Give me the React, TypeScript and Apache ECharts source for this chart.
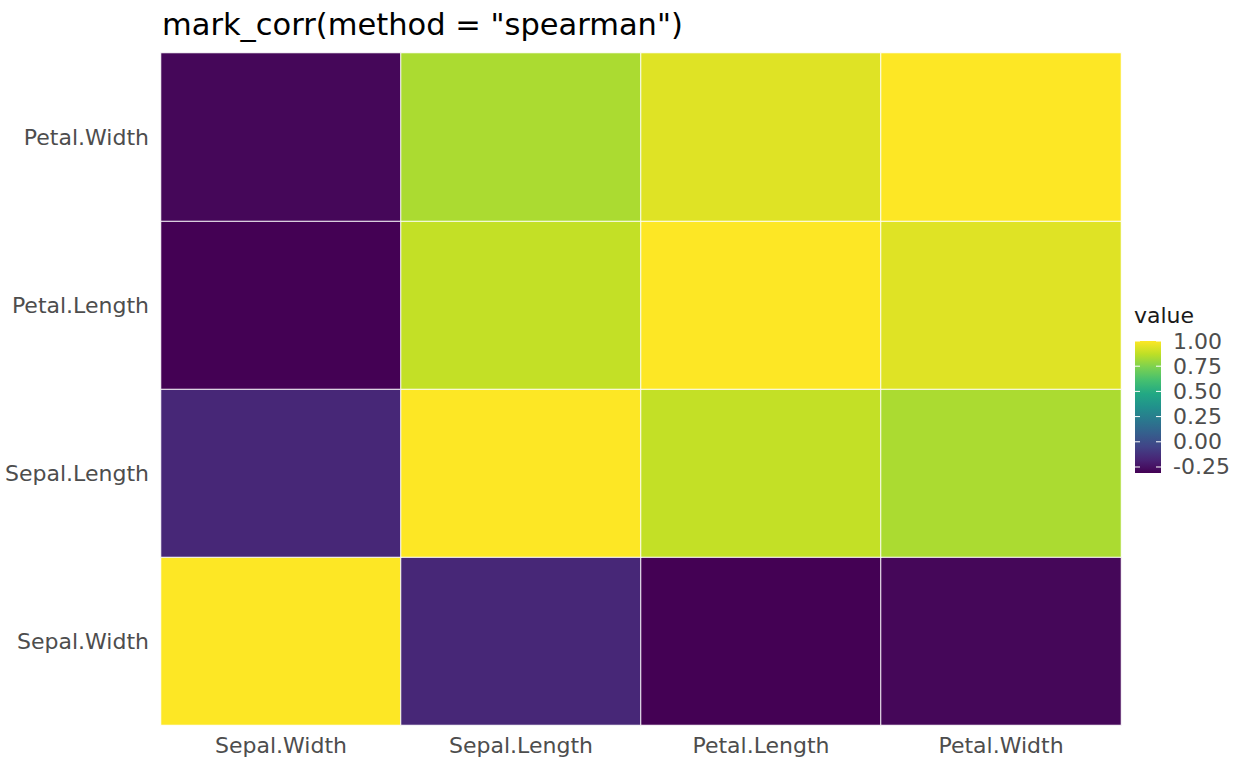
import React, { useEffect, useRef } from "react";
import * as echarts from "echarts";

const xCategories = ["Sepal.Width", "Sepal.Length", "Petal.Length", "Petal.Width"];
const yCategories = ["Sepal.Width", "Sepal.Length", "Petal.Length", "Petal.Width"];

// correlation rows, one per y category (bottom to top), columns follow xCategories
const rowSepalWidth = [1.0, -0.1667, -0.3096, -0.289];
const rowSepalLength = [-0.1667, 1.0, 0.8819, 0.8343];
const rowPetalLength = [-0.3096, 0.8819, 1.0, 0.9377];
const rowPetalWidth = [-0.289, 0.8343, 0.9377, 1.0];

const legendTicks = [1.0, 0.75, 0.5, 0.25, 0.0, -0.25];
const valueMin = -0.3096;
const valueMax = 1.0;

const viridis = [
  "#440154", "#482475", "#414487", "#355f8d", "#2a788e",
  "#21918c", "#22a884", "#44bf70", "#7ad151", "#bddf26", "#fde725",
];

const FONT = "DejaVu Sans";

const App = () => {
  const chartRef = useRef<HTMLDivElement>(null);

  useEffect(() => {
    if (!chartRef.current) return;
    document.body.style.margin = "0";

    const chart = echarts.init(chartRef.current, undefined, { renderer: "svg" });

    const rows = [rowSepalWidth, rowSepalLength, rowPetalLength, rowPetalWidth];
    const data: number[][] = [];
    rows.forEach((row, yi) => row.forEach((v, xi) => data.push([xi, yi, v])));

    // colour bar
    const barX = 1135;
    const barTop = 341;
    const barBottom = 473;
    const barW = 26;
    const toY = (v: number) =>
      barBottom - ((v - valueMin) / (valueMax - valueMin)) * (barBottom - barTop);

    // gradient runs top (offset 0, yellow) to bottom (offset 1, purple); offsets ascending
    const gradStops = viridis
      .slice()
      .reverse()
      .map((c, i) => ({ offset: i / (viridis.length - 1), color: c }));

    const legendGraphics: any[] = [
      {
        type: "text",
        x: barX - 1,
        y: 326,
        style: {
          text: "value",
          fontSize: 22,
          fill: "#1a1a1a",
          fontFamily: FONT,
          verticalAlign: "bottom",
        },
      },
      {
        type: "rect",
        shape: { x: barX, y: barTop, width: barW, height: barBottom - barTop },
        style: { fill: new echarts.graphic.LinearGradient(0, 0, 0, 1, gradStops) },
      },
    ];
    legendTicks.forEach((t) => {
      const y = toY(t);
      legendGraphics.push(
        {
          type: "line",
          shape: { x1: barX, y1: y, x2: barX + 5, y2: y },
          style: { stroke: "#ffffff", lineWidth: 1 },
        },
        {
          type: "line",
          shape: { x1: barX + barW - 5, y1: y, x2: barX + barW, y2: y },
          style: { stroke: "#ffffff", lineWidth: 1 },
        },
        {
          type: "text",
          x: 1173,
          y: y,
          style: {
            text: t.toFixed(2),
            fontSize: 22,
            fill: "#4d4d4d",
            fontFamily: FONT,
            verticalAlign: "middle",
          },
        }
      );
    });

    chart.setOption({
      animation: false,
      backgroundColor: "#ffffff",
      title: {
        text: 'mark_corr(method = "spearman")',
        left: 157,
        top: 4,
        textStyle: {
          fontFamily: FONT,
          fontSize: 30.5,
          fontWeight: "normal",
          color: "#000000",
        },
      },
      grid: { left: 161, top: 53, width: 960, height: 672 },
      xAxis: {
        type: "category",
        data: xCategories,
        axisLine: { show: false },
        axisTick: { show: false },
        splitArea: { show: false },
        axisLabel: {
          fontFamily: FONT,
          fontSize: 22,
          color: "#4d4d4d",
          margin: 9,
        },
      },
      yAxis: {
        type: "category",
        data: yCategories,
        axisLine: { show: false },
        axisTick: { show: false },
        splitArea: { show: false },
        axisLabel: {
          fontFamily: FONT,
          fontSize: 22,
          color: "#4d4d4d",
          margin: 12,
        },
      },
      visualMap: {
        show: false,
        type: "continuous",
        min: valueMin,
        max: valueMax,
        dimension: 2,
        inRange: { color: viridis },
      },
      graphic: legendGraphics,
      series: [
        {
          type: "heatmap",
          data,
          itemStyle: { borderColor: "#ffffff", borderWidth: 1 },
          emphasis: { disabled: true },
        },
      ],
    });

    return () => {
      chart.dispose();
    };
  }, []);

  return <div ref={chartRef} style={{ width: "1248px", height: "771px" }}></div>;
};

export default App;
